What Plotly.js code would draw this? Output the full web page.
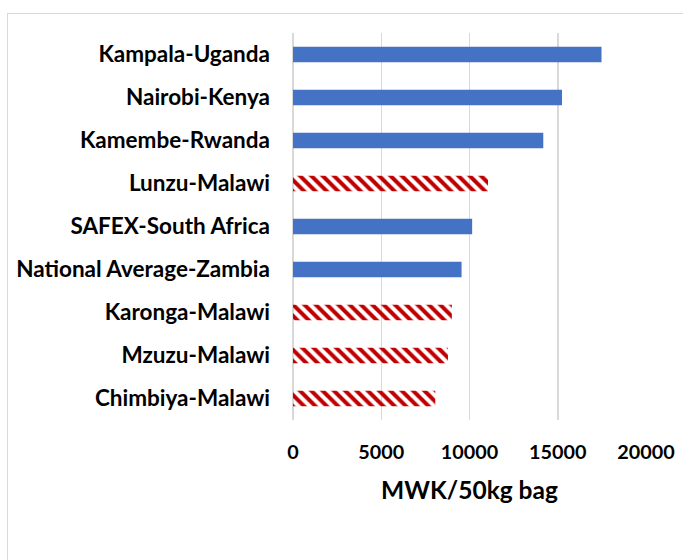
<!DOCTYPE html>
<html>
<head>
<meta charset="utf-8">
<script src="https://cdn.plot.ly/plotly-3.0.1.min.js"></script>
<style>
html,body{margin:0;padding:0;background:#fff;overflow:hidden;}
#wrap{position:relative;width:683px;height:560px;}
#chart{position:absolute;left:0;top:0;width:683px;height:560px;}
#frame{position:absolute;left:7px;top:13px;width:700px;height:600px;border:1.5px solid #d9d9d9;pointer-events:none;box-sizing:border-box;}
</style>
</head>
<body>
<div id="wrap"><div id="chart"></div><div id="frame"></div></div>
<script>
var categories = ["Kampala-Uganda","Nairobi-Kenya","Kamembe-Rwanda","Lunzu-Malawi","SAFEX-South Africa","National Average-Zambia","Karonga-Malawi","Mzuzu-Malawi","Chimbiya-Malawi"];
var prices = [17480, 15240, 14180, 11050, 10150, 9550, 9000, 8780, 8060];
var isMalawi = [false, false, false, true, false, false, true, true, true];
var xTicks = [0, 5000, 10000, 15000, 20000];
var xTitle = "MWK/50kg bag";

var colors = isMalawi.map(function(m){ return m ? "#c00000" : "#4472c4"; });
var shapes = isMalawi.map(function(m){ return m ? "\\" : ""; });

var font = "Lato, Open Sans, sans-serif";
var trace = {
  type: "bar",
  orientation: "h",
  y: categories,
  x: prices,
  width: 0.36,
  marker: {
    color: colors,
    line: {width: 0},
    pattern: {shape: shapes, bgcolor: "#ffffff", size: 8, solidity: 0.5, fillmode: "replace"}
  },
  hoverinfo: "x+y"
};
var layout = {
  width: 683, height: 560,
  margin: {l: 293, r: 37, t: 33, b: 140},
  paper_bgcolor: "#ffffff", plot_bgcolor: "#ffffff",
  showlegend: false,
  font: {family: font, color: "#000"},
  xaxis: {
    range: [0, 20000],
    tickvals: xTicks,
    ticktext: xTicks.map(String),
    showgrid: true, gridcolor: "#d9d9d9", gridwidth: 1.5,
    zeroline: true, zerolinecolor: "#d9d9d9", zerolinewidth: 1.5,
    showline: false, ticks: "",
    tickfont: {family: font, size: 19.8, color: "#000", weight: "bold"},
    ticklabelstandoff: 18,
    title: {text: "<b>" + xTitle + "</b>", font: {family: font, size: 24.5, color: "#000"}, standoff: 20}
  },
  yaxis: {
    autorange: "reversed",
    type: "category",
    showgrid: false, zeroline: false, showline: false, ticks: "",
    tickfont: {family: font, size: 22.5, color: "#000", weight: "bold"},
    ticklabelstandoff: 22
  }
};
Plotly.newPlot("chart", [trace], layout, {displayModeBar: false, staticPlot: true});
</script>
</body>
</html>
